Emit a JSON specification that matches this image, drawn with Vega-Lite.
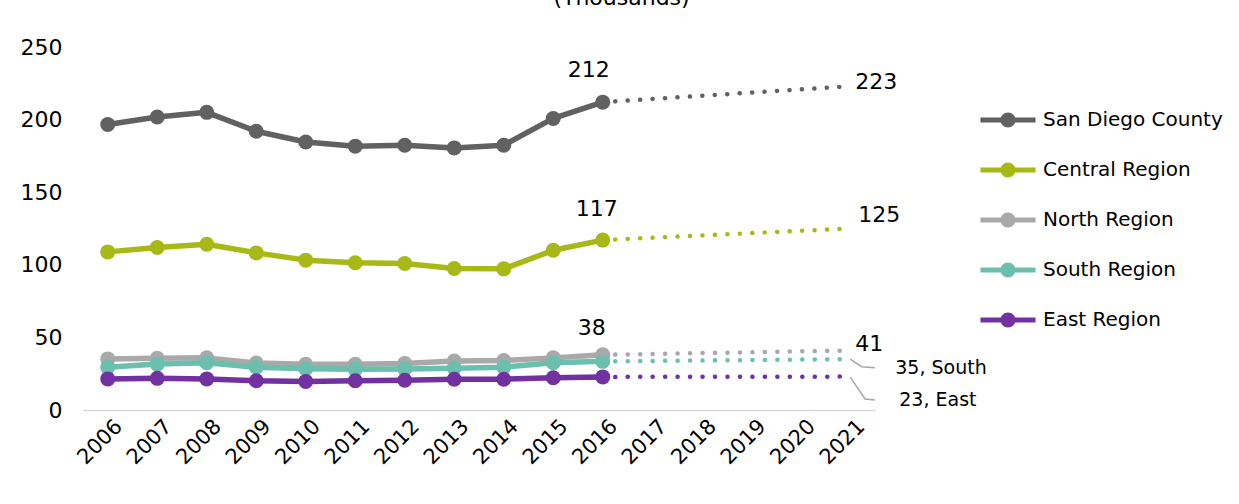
{
  "$schema": "https://vega.github.io/schema/vega-lite/v6.json",
  "width": 792,
  "height": 363,
  "autosize": {"type": "none"},
  "padding": {"left": 83, "top": 47, "right": 364, "bottom": 94},
  "background": "#ffffff",
  "title": {"text": "(Thousands)", "fontSize": 22, "font": "DejaVu Sans", "fontWeight": "normal", "anchor": "middle", "frame": "bounds", "baseline": "bottom", "offset": 12, "dy": 8, "color": "#000000"},
  "config": {
    "view": {"stroke": null},
    "font": "DejaVu Sans",
    "axis": {"grid": false}
  },
  "datasets": {
    "series": [
      {"region": "San Diego County", "year": 2006, "value": 196.6},
      {"region": "San Diego County", "year": 2007, "value": 201.8},
      {"region": "San Diego County", "year": 2008, "value": 205.0},
      {"region": "San Diego County", "year": 2009, "value": 192.0},
      {"region": "San Diego County", "year": 2010, "value": 184.6},
      {"region": "San Diego County", "year": 2011, "value": 181.7},
      {"region": "San Diego County", "year": 2012, "value": 182.3},
      {"region": "San Diego County", "year": 2013, "value": 180.5},
      {"region": "San Diego County", "year": 2014, "value": 182.3},
      {"region": "San Diego County", "year": 2015, "value": 200.8},
      {"region": "San Diego County", "year": 2016, "value": 212},
      {"region": "Central Region", "year": 2006, "value": 108.9},
      {"region": "Central Region", "year": 2007, "value": 111.9},
      {"region": "Central Region", "year": 2008, "value": 114.2},
      {"region": "Central Region", "year": 2009, "value": 108.2},
      {"region": "Central Region", "year": 2010, "value": 103.2},
      {"region": "Central Region", "year": 2011, "value": 101.4},
      {"region": "Central Region", "year": 2012, "value": 100.9},
      {"region": "Central Region", "year": 2013, "value": 97.5},
      {"region": "Central Region", "year": 2014, "value": 97.2},
      {"region": "Central Region", "year": 2015, "value": 110.0},
      {"region": "Central Region", "year": 2016, "value": 117},
      {"region": "North Region", "year": 2006, "value": 35.2},
      {"region": "North Region", "year": 2007, "value": 35.6},
      {"region": "North Region", "year": 2008, "value": 35.9},
      {"region": "North Region", "year": 2009, "value": 32.4},
      {"region": "North Region", "year": 2010, "value": 31.5},
      {"region": "North Region", "year": 2011, "value": 31.5},
      {"region": "North Region", "year": 2012, "value": 32.1},
      {"region": "North Region", "year": 2013, "value": 33.7},
      {"region": "North Region", "year": 2014, "value": 34.1},
      {"region": "North Region", "year": 2015, "value": 35.9},
      {"region": "North Region", "year": 2016, "value": 38},
      {"region": "South Region", "year": 2006, "value": 29.5},
      {"region": "South Region", "year": 2007, "value": 31.6},
      {"region": "South Region", "year": 2008, "value": 32.5},
      {"region": "South Region", "year": 2009, "value": 29.5},
      {"region": "South Region", "year": 2010, "value": 28.4},
      {"region": "South Region", "year": 2011, "value": 28.0},
      {"region": "South Region", "year": 2012, "value": 28.2},
      {"region": "South Region", "year": 2013, "value": 28.8},
      {"region": "South Region", "year": 2014, "value": 29.5},
      {"region": "South Region", "year": 2015, "value": 32.5},
      {"region": "South Region", "year": 2016, "value": 33.5},
      {"region": "East Region", "year": 2006, "value": 21.4},
      {"region": "East Region", "year": 2007, "value": 21.8},
      {"region": "East Region", "year": 2008, "value": 21.4},
      {"region": "East Region", "year": 2009, "value": 20.1},
      {"region": "East Region", "year": 2010, "value": 19.7},
      {"region": "East Region", "year": 2011, "value": 20.1},
      {"region": "East Region", "year": 2012, "value": 20.5},
      {"region": "East Region", "year": 2013, "value": 21.2},
      {"region": "East Region", "year": 2014, "value": 21.2},
      {"region": "East Region", "year": 2015, "value": 22.2},
      {"region": "East Region", "year": 2016, "value": 22.8}
    ],
    "proj": [
      {"region": "San Diego County", "year": 2016, "value": 212},
      {"region": "San Diego County", "year": 2021, "value": 223},
      {"region": "Central Region", "year": 2016, "value": 117},
      {"region": "Central Region", "year": 2021, "value": 125},
      {"region": "North Region", "year": 2016, "value": 38},
      {"region": "North Region", "year": 2021, "value": 41},
      {"region": "South Region", "year": 2016, "value": 33.5},
      {"region": "South Region", "year": 2021, "value": 35},
      {"region": "East Region", "year": 2016, "value": 22.8},
      {"region": "East Region", "year": 2021, "value": 23}
    ],
    "leaders": [
      {"id": "s", "ord": 1, "year": 2021, "value": 35},
      {"id": "s", "ord": 2, "year": 2021.23, "value": 29.8},
      {"id": "s", "ord": 3, "year": 2021.5, "value": 29.1},
      {"id": "e", "ord": 1, "year": 2021, "value": 22.6},
      {"id": "e", "ord": 2, "year": 2021.3, "value": 7.6},
      {"id": "e", "ord": 3, "year": 2021.5, "value": 6.9}
    ],
    "labels": [
      {"id": "sd16", "year": 2016, "value": 212, "label": "212"},
      {"id": "sd21", "year": 2021, "value": 223, "label": "223"},
      {"id": "c16", "year": 2016, "value": 117, "label": "117"},
      {"id": "c21", "year": 2021, "value": 125, "label": "125"},
      {"id": "n16", "year": 2016, "value": 38, "label": "38"},
      {"id": "n21", "year": 2021, "value": 41, "label": "41"},
      {"id": "s21", "year": 2021, "value": 35, "label": "35, South"},
      {"id": "e21", "year": 2021, "value": 23, "label": "23, East"}
    ]
  },
  "encoding": {
    "x": {
      "field": "year", "type": "quantitative",
      "scale": {"domain": [2005.5, 2021.5], "nice": false, "zero": false},
      "axis": {
        "title": null, "values": [2006, 2007, 2008, 2009, 2010, 2011, 2012, 2013, 2014, 2015, 2016, 2017, 2018, 2019, 2020, 2021],
        "format": "d", "labelAngle": -45, "labelAlign": "right", "labelBaseline": "middle",
        "labelFontSize": 21, "labelColor": "#000000", "labelPadding": 13, "labelOffset": 11,
        "ticks": false, "domainColor": "#d9d9d9", "domainWidth": 1.5, "labelFlush": false, "labelOverlap": false, "labelBound": false
      }
    },
    "y": {
      "field": "value", "type": "quantitative",
      "scale": {"domain": [0, 250], "nice": false},
      "axis": {
        "title": null, "values": [0, 50, 100, 150, 200, 250],
        "labelFontSize": 22, "labelColor": "#000000", "labelPadding": 21,
        "ticks": false, "domain": false, "labelFlush": false, "labelOverlap": false
      }
    }
  },
  "layer": [
    {
      "data": {"name": "series"},
      "mark": {"type": "line", "strokeWidth": 5.5, "strokeCap": "butt", "strokeJoin": "round"},
      "encoding": {
        "color": {
          "field": "region", "type": "nominal",
          "scale": {
            "domain": ["San Diego County", "Central Region", "North Region", "South Region", "East Region"],
            "range": ["#616161", "#A8B816", "#A9A9A9", "#6ABFAE", "#7131A1"]
          },
          "legend": {
            "orient": "none", "legendX": 915, "legendY": 63, "title": null,
            "symbolType": "M-3.67,-0.33L3.67,-0.33L3.67,0.33L-3.67,0.33Z M-1,0A1,1,0,1,1,1,0A1,1,0,1,1,-1,0Z",
            "symbolSize": 225, "symbolStrokeWidth": 0,
            "labelFontSize": 20, "labelColor": "#000000", "labelOffset": 25, "labelLimit": 0, "rowPadding": 30, "padding": 0,
            "encode": {"symbols": {"update": {"fill": {"scale": "color", "field": "value"}, "stroke": {"value": "transparent"}, "opacity": {"value": 1}}}}
          }
        }
      }
    },
    {
      "data": {"name": "series"},
      "mark": {"type": "point", "filled": true, "size": 225, "opacity": 1},
      "encoding": {
        "color": {"field": "region", "type": "nominal"}
      }
    },
    {
      "data": {"name": "proj"},
      "mark": {"type": "line", "strokeWidth": 4.5, "strokeCap": "round", "strokeDash": [0.1, 12.37]},
      "encoding": {
        "color": {"field": "region", "type": "nominal"}
      }
    },
    {
      "data": {"name": "leaders"},
      "mark": {"type": "line", "strokeWidth": 1.5, "color": "#a6a6a6"},
      "encoding": {
        "detail": {"field": "id"},
        "order": {"field": "ord", "type": "quantitative"}
      }
    },
    {
      "data": {"name": "labels"},
      "transform": [{"filter": "datum.id == 'sd16'"}],
      "mark": {"type": "text", "fontSize": 22, "color": "#000000", "align": "center", "baseline": "middle", "dx": -14, "dy": -32},
      "encoding": {"text": {"field": "label"}}
    },
    {
      "data": {"name": "labels"},
      "transform": [{"filter": "datum.id == 'sd21'"}],
      "mark": {"type": "text", "fontSize": 22, "color": "#000000", "align": "left", "baseline": "middle", "dx": 5, "dy": -4},
      "encoding": {"text": {"field": "label"}}
    },
    {
      "data": {"name": "labels"},
      "transform": [{"filter": "datum.id == 'c16'"}],
      "mark": {"type": "text", "fontSize": 22, "color": "#000000", "align": "center", "baseline": "middle", "dx": -6, "dy": -31},
      "encoding": {"text": {"field": "label"}}
    },
    {
      "data": {"name": "labels"},
      "transform": [{"filter": "datum.id == 'c21'"}],
      "mark": {"type": "text", "fontSize": 22, "color": "#000000", "align": "left", "baseline": "middle", "dx": 8, "dy": -14},
      "encoding": {"text": {"field": "label"}}
    },
    {
      "data": {"name": "labels"},
      "transform": [{"filter": "datum.id == 'n16'"}],
      "mark": {"type": "text", "fontSize": 22, "color": "#000000", "align": "center", "baseline": "middle", "dx": -11, "dy": -27},
      "encoding": {"text": {"field": "label"}}
    },
    {
      "data": {"name": "labels"},
      "transform": [{"filter": "datum.id == 'n21'"}],
      "mark": {"type": "text", "fontSize": 22, "color": "#000000", "align": "left", "baseline": "middle", "dx": 5, "dy": -6},
      "encoding": {"text": {"field": "label"}}
    },
    {
      "data": {"name": "labels"},
      "transform": [{"filter": "datum.id == 's21'"}],
      "mark": {"type": "text", "fontSize": 19, "color": "#000000", "align": "left", "baseline": "middle", "dx": 45, "dy": 9},
      "encoding": {"text": {"field": "label"}}
    },
    {
      "data": {"name": "labels"},
      "transform": [{"filter": "datum.id == 'e21'"}],
      "mark": {"type": "text", "fontSize": 19, "color": "#000000", "align": "left", "baseline": "middle", "dx": 49, "dy": 23},
      "encoding": {"text": {"field": "label"}}
    }
  ]
}
